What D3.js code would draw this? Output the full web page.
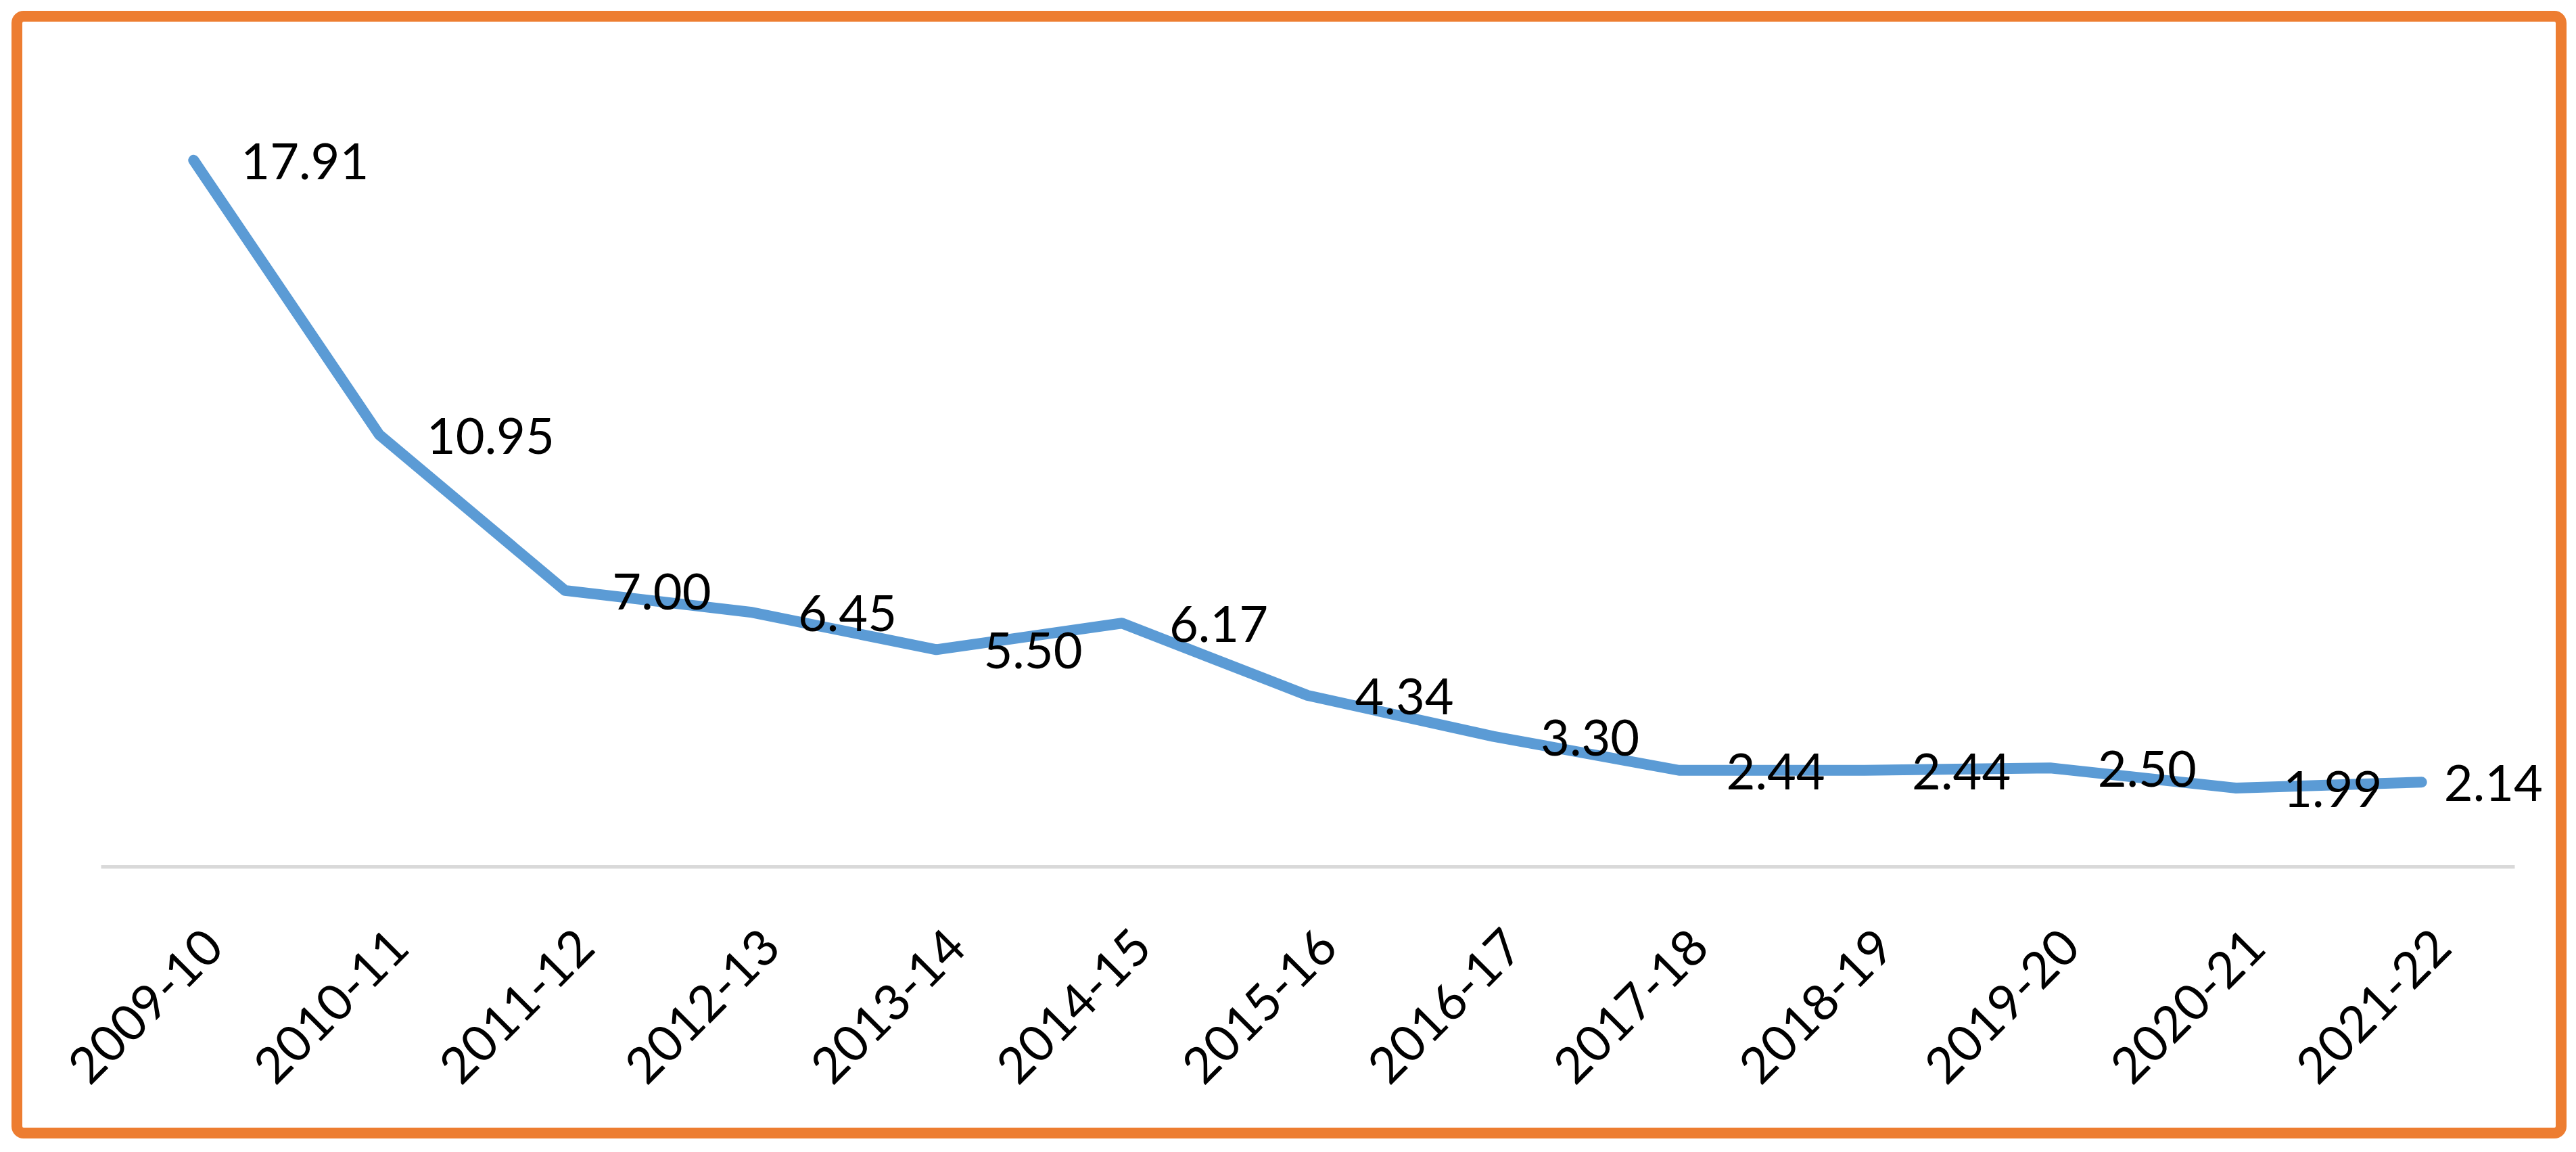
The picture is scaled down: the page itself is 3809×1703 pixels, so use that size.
<!DOCTYPE html>
<html>
<head>
<meta charset="utf-8">
<script src="https://cdn.jsdelivr.net/npm/d3@7"></script>
<style>
  body { margin: 0; background: #fff; }
  svg text { font-family: Lato, "Open Sans", sans-serif; fill: #000; }
</style>
</head>
<body>
<div id="chart"></div>
<script>
// data
const years = ['2009-10', '2010-11', '2011-12', '2012-13', '2013-14', '2014-15', '2015-16',
    '2016-17', '2017-18', '2018-19', '2019-20', '2020-21', '2021-22'];
const values = [17.91, 10.95, 7.00, 6.45, 5.50, 6.17, 4.34, 3.30, 2.44, 2.44, 2.50, 1.99, 2.14];
const yDomain = [0, 20];

const width = 3809;
const height = 1703;
const margin = { top: 115, right: 91, bottom: 422, left: 149 };

const svg = d3.select('#chart')
    .append('svg')
    .attr('width', width)
    .attr('height', height);

// orange frame
svg.append('rect')
    .attr('x', 25)
    .attr('y', 24)
    .attr('width', 3762)
    .attr('height', 1651)
    .attr('rx', 10)
    .style('fill', '#fff')
    .style('stroke', '#ED7D31')
    .style('stroke-width', 16);

// scales
const x = d3.scaleBand()
    .domain(years)
    .range([margin.left, width - margin.right]);
const y = d3.scaleLinear()
    .domain(yDomain)
    .range([height - margin.bottom, margin.top]);

const data = years.map((d, i) => ({ year: d, value: values[i] }));

// category axis
const xAxis = svg.append('g')
    .attr('transform', `translate(0, ${y(0)})`)
    .call(d3.axisBottom(x).tickSize(0).tickPadding(0));
xAxis.select('.domain')
    .style('stroke', '#D9D9D9')
    .style('stroke-width', 5);
xAxis.selectAll('text')
    .style('font-size', '74px')
    .style('font-family', 'Lato, "Open Sans", sans-serif')
    .attr('text-anchor', 'end')
    .attr('dy', 0)
    .attr('transform', 'translate(48, 124) rotate(-45)');

// line
const line = d3.line()
    .x(d => x(d.year) + x.bandwidth() / 2)
    .y(d => y(d.value));

svg.append('path')
    .datum(data)
    .attr('d', line)
    .style('fill', 'none')
    .style('stroke', '#5B9BD5')
    .style('stroke-width', 16)
    .style('stroke-linecap', 'round')
    .style('stroke-linejoin', 'round');

// data labels, right of each point, kept inside the frame
const labelRight = 3760;
svg.selectAll('.label')
    .data(data)
    .join('text')
    .attr('class', 'label')
    .attr('x', d => x(d.year) + x.bandwidth() / 2 + 70)
    .attr('y', d => y(d.value))
    .attr('dy', '0.38em')
    .style('font-size', '74px')
    .text(d => d.value.toFixed(2))
    .each(function () {
        const t = d3.select(this);
        const end = +t.attr('x') + this.getComputedTextLength();
        if (end > labelRight) t.attr('x', +t.attr('x') - (end - labelRight));
    });
</script>
</body>
</html>
